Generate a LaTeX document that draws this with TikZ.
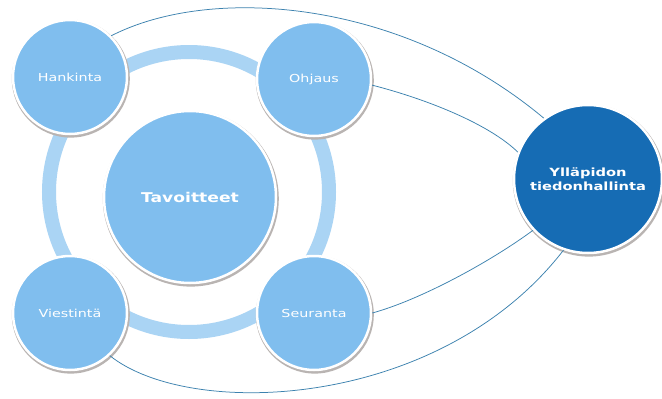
\documentclass[tikz,border=0pt]{standalone}
\usepackage{fontspec}
\setmainfont{DejaVu Sans}
\usepackage{graphicx}
\definecolor{cLight}{RGB}{128,190,238}
\definecolor{cRing}{RGB}{170,212,244}
\definecolor{cDark}{RGB}{22,108,180}
\definecolor{cLine}{RGB}{60,130,175}
\definecolor{cShadow}{RGB}{185,180,178}
\begin{document}
\begin{tikzpicture}[x=1pt,y=-1pt,
  ball/.style={circle, inner sep=0pt, fill=cLight, draw=white, line width=2.5pt, text=white},
  smallball/.style={ball, minimum size=114pt, font=\fontsize{11}{13}\selectfont},
  shadowball/.style={circle, inner sep=0pt, fill=cShadow, draw=none},
  link/.style={draw=cLine, line width=0.75pt}]
\useasboundingbox (0,0) rectangle (662,399);
\fill[white] (0,0) rectangle (662,399);
% ring
\draw[cRing, line width=14pt] (189,192) circle[radius=140];
% shadows
\foreach \cx/\cy/\d in {70/77/118, 314/79/118, 70/313/118, 314/313/118, 190/197/176, 588/179/152}
  \node[shadowball, minimum size=\d pt] at (\cx+0.8,\cy+1.6) {};
% nodes
\node[smallball] (hank) at (70,77) {\scalebox{1.3}[1]{Hankinta}};
\node[smallball] (ohj) at (314,79) {\scalebox{1.3}[1]{Ohjaus}};
\node[smallball] (vies) at (70,313) {\scalebox{1.3}[1]{Viestintä}};
\node[smallball] (seur) at (314,313) {\scalebox{1.3}[1]{Seuranta}};
\node[ball, minimum size=172pt, font=\bfseries\fontsize{13.5}{16}\selectfont] (tav) at (190,197) {\scalebox{1.27}[1]{Tavoitteet}};
\node[ball, fill=cDark, minimum size=148pt, font=\bfseries\fontsize{11.3}{15}\selectfont, align=center] (yll) at (588,179)
  {\scalebox{1.3}[1]{Ylläpidon}\\[-1pt]\scalebox{1.3}[1]{tiedonhallinta}};
% connectors
\draw[link] (hank.45) .. controls (210,-15) and (400,-2) .. (yll.126);
\draw[link] (ohj.-6) .. controls (430,100) and (490,125) .. (yll.159);
\draw[link] (seur.0) .. controls (420,300) and (490,262) .. (yll.223);
\draw[link] (vies.-47) .. controls (190,420) and (440,410) .. (yll.251);
\end{tikzpicture}
\end{document}
